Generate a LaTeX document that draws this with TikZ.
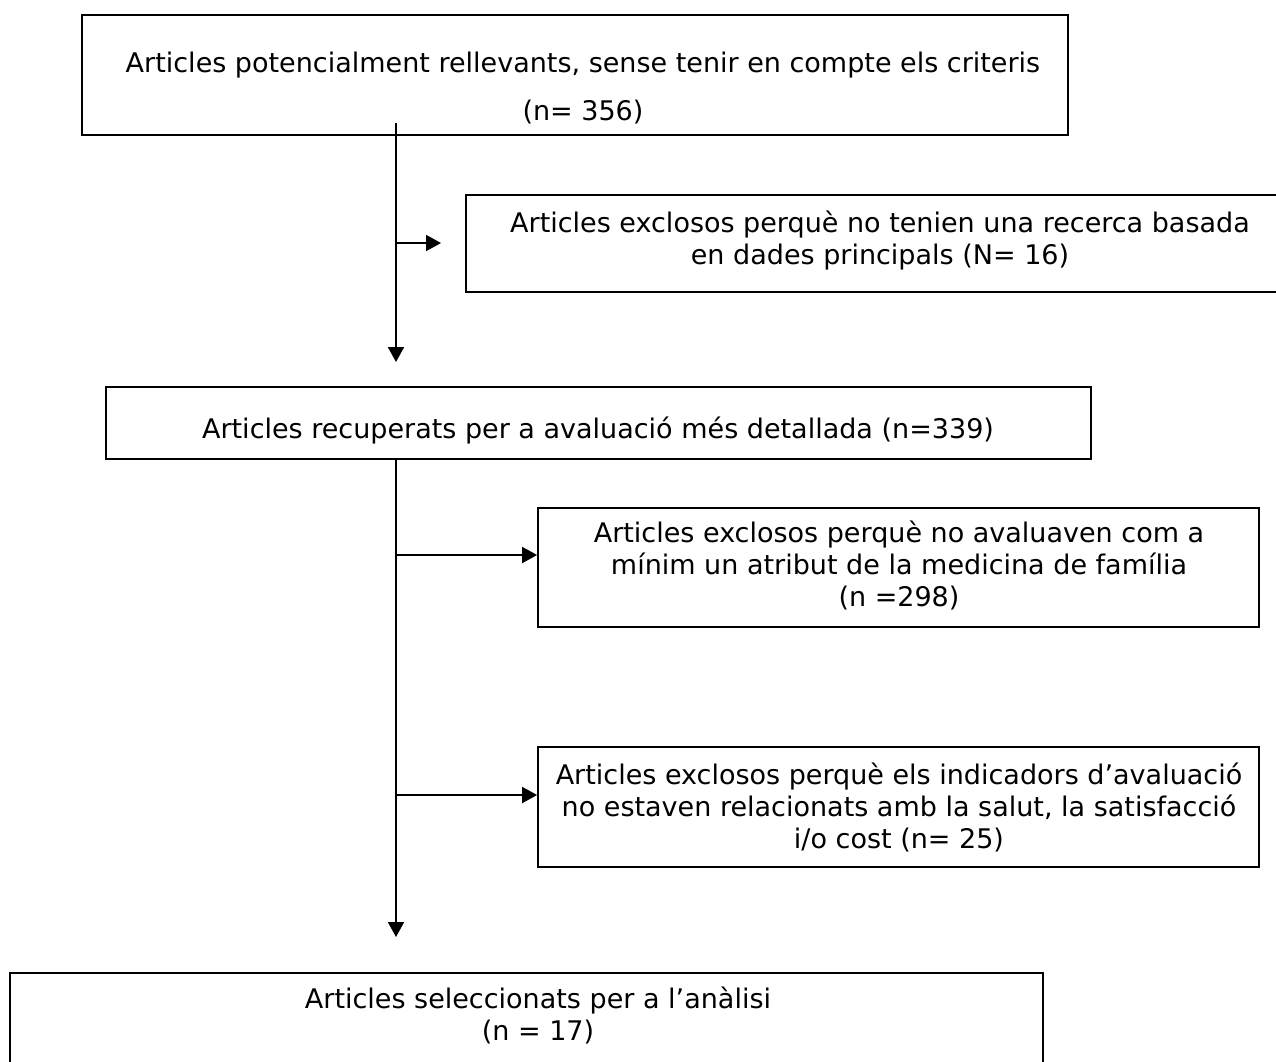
\documentclass[tikz,border=0pt]{standalone}
\usepackage{fontspec}
\setmainfont{DejaVu Sans}
\usetikzlibrary{arrows.meta}
\begin{document}
\begin{tikzpicture}[x=1pt,y=-1pt,
  boxframe/.style={draw=black, line width=1.8pt, rectangle, inner sep=0pt},
  boxtext/.style={align=center, inner sep=0pt, font=\fontsize{27}{32}\selectfont},
  conn/.style={line width=1.8pt},
  arr/.style={line width=1.8pt, -{Triangle[length=15pt,width=16pt]}}]
\useasboundingbox (0,0) rectangle (1276,1061);
% boxes
\node[boxframe, minimum width=986pt, minimum height=120pt] (b1) at (575,75) {};
\node[boxframe, minimum width=824pt, minimum height=97pt] (b2) at (878,243.5) {};
\node[boxframe, minimum width=985pt, minimum height=72pt] (b3) at (598.5,423) {};
\node[boxframe, minimum width=721pt, minimum height=119pt] (b4) at (898.5,567.5) {};
\node[boxframe, minimum width=721pt, minimum height=120pt] (b5) at (898.5,807) {};
\node[boxframe, minimum width=1033pt, minimum height=120pt] (b6) at (526.5,1033) {};
% texts
\node[boxtext] (t1) at (583,88) {Articles potencialment rellevants, sense tenir en compte els criteris\\[16pt](n= 356)};
\node[boxtext] (t2) at (880,241) {Articles exclosos perquè no tenien una recerca basada\\en dades principals (N= 16)};
\node[boxtext] (t3) at (598,430) {Articles recuperats per a avaluació més detallada (n=339)};
\node[boxtext] (t4) at (899,565) {Articles exclosos perquè no avaluaven com a\\mínim un atribut de la medicina de família\\(n =298)};
\node[boxtext] (t5) at (899,807) {Articles exclosos perquè els indicadors d’avaluació\\no estaven relacionats amb la salut, la satisfacció\\i/o cost (n= 25)};
\node[boxtext] (t6) at (538,1015) {Articles seleccionats per a l’anàlisi\\(n = 17)};
% connectors
\coordinate (s1) at (396,123);
\coordinate (e1) at (396,362);
\coordinate (j1) at (396,243);
\coordinate (a1) at (441,243);
\coordinate (j2) at (396,555);
\coordinate (j3) at (396,795);
\coordinate (e2) at (396,937);
\draw[arr] (s1) -- (e1);
\draw[arr] (j1) -- (a1);
\draw[arr] (b3.south -| s1) -- (e2);
\draw[arr] (j2) -- (j2 -| b4.west);
\draw[arr] (j3) -- (j3 -| b5.west);
\end{tikzpicture}
\end{document}
